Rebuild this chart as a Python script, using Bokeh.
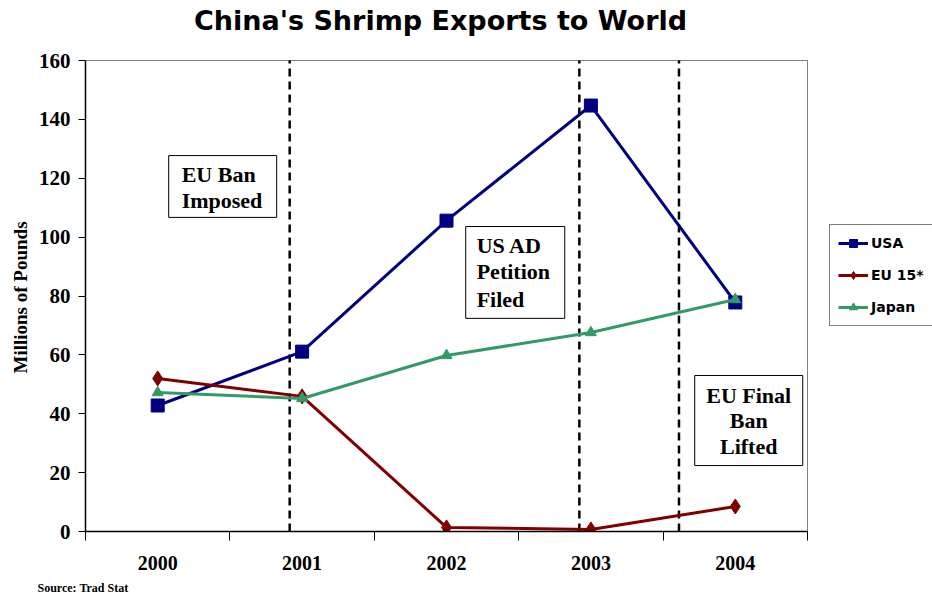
from bokeh.plotting import figure
from bokeh.models import (Range1d, FixedTicker, Legend, LegendItem, Title, Label,
                          ColumnDataSource)
from bokeh.core.properties import value
from bokeh.embed import file_html
from bokeh.resources import INLINE

# Shrimp exports from China, millions of pounds
years = ["2000", "2001", "2002", "2003", "2004"]
usa = [42.8, 61.1, 105.6, 144.7, 77.8]
eu15 = [52.0, 45.9, 1.4, 0.7, 8.5]
japan = [47.2, 45.2, 59.8, 67.6, 78.8]
y_ticks = [0, 20, 40, 60, 80, 100, 120, 140, 160]
y_max = 160

# event markers (position along the year axis) and their notes
event_pos = [0.914, 2.92, 3.61]
notes = [
    {"lines": ["EU Ban", "Imposed"], "box": (0.076, 0.824, 127.7, 106.7),
     "tx": 0.166, "ty": [121.4, 112.4], "align": "left"},
    {"lines": ["US AD", "Petition", "Filed"], "box": (2.133, 2.819, 103.6, 72.4),
     "tx": 2.209, "ty": [97.3, 88.3, 78.9], "align": "left"},
    {"lines": ["EU Final", "Ban", "Lifted"], "box": (3.719, 4.467, 53.0, 22.4),
     "tx": 4.093, "ty": [46.2, 37.6, 28.8], "align": "center"},
]

xs = list(range(len(years)))

# layout: the plotting box is 722 x 471 px; the frame runs on to the top and
# right edges of the canvas so the title and legend can sit around the box
W, H = 932, 603
LEFT, BOTTOM = 85, 72
BOX_W, BOX_H = 722, 471
x_lo, x_hi = -0.5, len(years) - 0.5
x_end = x_lo + (W - LEFT) * (x_hi - x_lo) / BOX_W
y_end = y_max * (H - BOTTOM) / BOX_H

p = figure(width=W, height=H, output_backend="svg", toolbar_location=None,
           x_range=Range1d(x_lo, x_end), y_range=Range1d(0, y_end),
           min_border_left=LEFT, min_border_right=0, min_border_top=0,
           min_border_bottom=BOTTOM)

p.xgrid.visible = False
p.ygrid.visible = False
p.outline_line_color = None
p.background_fill_color = "white"
p.border_fill_color = "white"

# grey border of the plotting box (top and right edges)
p.line(x=[x_lo, x_hi, x_hi], y=[y_max, y_max, 0], line_color="#808080",
       line_width=1, level="underlay")

# chart title above the box
p.add_layout(Label(x=355, y=BOX_H + 40, x_units="screen", y_units="screen",
                   text="China's Shrimp Exports to World", text_align="center",
                   text_baseline="middle", text_font="DejaVu Sans",
                   text_font_style="bold", text_font_size="27px",
                   text_color="black"))

# x axis: labels at the year centres, tick marks between years
xa = p.xaxis[0]
xa.bounds = (x_lo, x_hi)
xa.ticker = FixedTicker(ticks=xs, minor_ticks=[i - 0.5 for i in range(len(years) + 1)])
xa.major_label_overrides = {i: y for i, y in enumerate(years)}
xa.major_tick_out = 0
xa.major_tick_in = 0
xa.minor_tick_out = 9
xa.minor_tick_in = 0
xa.minor_tick_line_color = "black"
xa.axis_line_color = "black"
xa.axis_line_width = 1.5
xa.major_label_standoff = 15
xa.major_label_text_font = "Liberation Serif"
xa.major_label_text_font_style = "bold"
xa.major_label_text_font_size = "20px"
xa.major_label_text_color = "black"

ya = p.yaxis[0]
ya.bounds = (0, y_max)
ya.ticker = FixedTicker(ticks=y_ticks)
ya.minor_tick_line_color = None
ya.major_tick_out = 7
ya.major_tick_in = 0
ya.major_tick_line_color = "black"
ya.axis_line_color = "black"
ya.axis_line_width = 1.5
ya.major_label_standoff = 8
ya.major_label_text_font = "Liberation Serif"
ya.major_label_text_font_style = "bold"
ya.major_label_text_font_size = "21px"
ya.major_label_text_color = "black"

# y axis title, centred on the plotting box rather than the whole frame
p.add_layout(Title(text="Millions of Pounds", align="left", offset=158,
                   vertical_align="bottom", text_font="Liberation Serif",
                   text_font_style="bold", text_font_size="19px",
                   text_color="black", standoff=10), "left")

# vertical dashed event lines across the box
p.segment(x0=event_pos, y0=[0] * len(event_pos), x1=event_pos,
          y1=[y_max] * len(event_pos), line_color="black", line_width=2.5,
          line_dash="8 5", level="underlay")

# note boxes
for n in notes:
    l, r, t, b = n["box"]
    p.quad(left=[l], right=[r], top=[t], bottom=[b], fill_color="white",
           line_color="black", line_width=1, level="underlay")
    p.text(x=[n["tx"]] * len(n["lines"]), y=n["ty"], text=n["lines"],
           text_font=value("Liberation Serif"), text_font_style="bold",
           text_font_size="22px", text_align=n["align"], text_baseline="middle",
           text_color="black", level="underlay")

src = ColumnDataSource(dict(x=xs, usa=usa, eu=eu15, jp=japan))

l1 = p.line("x", "usa", source=src, line_color="#000080", line_width=3)
m1 = p.scatter("x", "usa", source=src, marker="square", size=13,
               fill_color="#000080", line_color="#000080")
l2 = p.line("x", "eu", source=src, line_color="#800000", line_width=3)
m2 = p.scatter("x", "eu", source=src, marker="diamond", size=15,
               fill_color="#800000", line_color="#800000")
l3 = p.line("x", "jp", source=src, line_color="#339966", line_width=3)
m3 = p.scatter("x", "jp", source=src, marker="triangle", size=11,
               fill_color="#339966", line_color="#339966")

legend = Legend(items=[LegendItem(label="USA", renderers=[l1, m1]),
                       LegendItem(label="EU 15*", renderers=[l2, m2]),
                       LegendItem(label="Japan", renderers=[l3, m3])],
                location=(BOX_W + 22, 205))
legend.label_text_font = "DejaVu Sans"
legend.label_text_font_style = "bold"
legend.label_text_font_size = "14px"
legend.label_text_color = "black"
legend.border_line_color = "black"
legend.border_line_width = 1
legend.background_fill_color = "white"
legend.background_fill_alpha = 1
legend.glyph_width = 30
legend.glyph_height = 20
legend.label_standoff = 3
legend.spacing = 12
legend.padding = 8
legend.margin = 0
p.add_layout(legend, "center")

p.add_layout(Title(text="Source: Trad Stat", align="left", offset=-48,
                   text_font="Liberation Serif", text_font_style="bold",
                   text_font_size="12px", text_color="black", standoff=13),
             "below")

open("out.html", "w").write(file_html(p, INLINE))
